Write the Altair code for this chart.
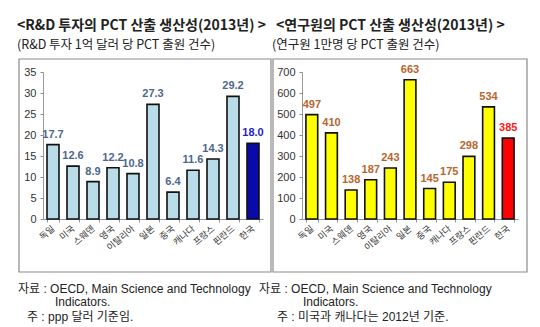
import altair as alt
import pandas as pd

countries = ["독일", "미국", "스웨덴", "영국", "이탈리아", "일본", "중국", "캐나다", "프랑스", "핀란드", "한국"]
rd_values = [17.7, 12.6, 8.9, 12.2, 10.8, 27.3, 6.4, 11.6, 14.3, 29.2, 18.0]
res_values = [497, 410, 138, 187, 243, 663, 145, 175, 298, 534, 385]

left_fill = ["#B8DDE8"] * 10 + ["#0A0AA8"]
left_label_color = ["#4D6690"] * 10 + ["#2323C8"]
right_fill = ["#FFFF00"] * 10 + ["#FF0000"]
right_label_color = ["#B9652E"] * 10 + ["#FF1A1A"]

left_title = "<R&D 투자의 PCT 산출 생산성(2013년) >"
left_sub = "(R&D 투자 1억 달러 당 PCT 출원 건수)"
right_title = "<연구원의 PCT 산출 생산성(2013년) >"
right_sub = "(연구원 1만명 당 PCT 출원 건수)"
src1 = "자료 : OECD, Main Science and Technology"
src2 = "Indicators."
note_left = "주 : ppp 달러 기준임."
note_right = "주 : 미국과 캐나다는 2012년 기준."

KFONT = "Noto Sans CJK KR"
FFONT = "Liberation Sans, Noto Sans CJK KR"

df_l = pd.DataFrame({"country": countries, "value": rd_values,
                     "lab": [f"{v:.1f}" for v in rd_values]})
df_r = pd.DataFrame({"country": countries, "value": res_values,
                     "lab": [str(v) for v in res_values]})


def panel(df, x_range, y_domain, y_step, fills, lab_colors, axis_off_x):
    def xs():
        return alt.Scale(domain=countries, range=x_range, paddingInner=0.4, paddingOuter=0.2)

    def ys():
        return alt.Scale(domain=y_domain, range=[219, 72], nice=False, zero=True)

    xaxis = alt.Axis(orient="bottom", offset=-108, labelAngle=-40, labelAlign="right",
                     labelBaseline="middle", labelPadding=5, labelFont=KFONT, labelFontSize=9,
                     labelColor="#333333", tickBand="extent", tickSize=3, tickColor="#8899AA",
                     domainColor="#8899AA", title=None, labelOverlap=False, grid=False)
    yaxis = alt.Axis(orient="left", offset=axis_off_x,
                     values=list(range(y_domain[0], y_domain[1] + 1, y_step)),
                     labelFont="Liberation Sans", labelFontSize=11, labelColor="#333333",
                     tickSize=3, tickColor="#888888", domainColor="#999999", labelPadding=4,
                     grid=False, title=None)
    bars = alt.Chart(df).mark_bar(stroke="#111111", strokeWidth=1.6).encode(
        x=alt.X("country:N", scale=xs(), axis=xaxis, sort=countries),
        y=alt.Y("value:Q", scale=ys(), axis=yaxis),
        color=alt.Color("country:N", scale=alt.Scale(domain=countries, range=fills), legend=None),
    )
    labels = alt.Chart(df).mark_text(fontWeight="bold", fontSize=11, font="Liberation Sans",
                                     baseline="bottom", dy=-5).encode(
        x=alt.X("country:N", scale=xs(), axis=None, sort=countries),
        y=alt.Y("value:Q", scale=ys(), axis=None),
        text="lab:N",
        color=alt.Color("country:N", scale=alt.Scale(domain=countries, range=lab_colors), legend=None),
    )
    return [bars, labels]


left = panel(df_l, [43, 263], [0, 35], 5, left_fill, left_label_color, -43)
right = panel(df_r, [302, 518], [0, 700], 100, right_fill, right_label_color, -302)

one = pd.DataFrame({"a": [0]})


def box(x1, x2):
    return alt.Chart(one).mark_rect(fill="transparent", stroke="#8A8A8A", strokeWidth=1.2).encode(
        x=alt.value(x1), x2=alt.value(x2), y=alt.value(59), y2=alt.value(272))


def txt(s, x, y, size=12, bold=False, font=KFONT, color="#222222"):
    return alt.Chart(one).mark_text(text=s, align="left", baseline="middle", fontSize=size,
                                    fontWeight="bold" if bold else "normal", font=font,
                                    color=color).encode(x=alt.value(x), y=alt.value(y))


chart = alt.layer(
    *left, *right,
    box(19, 271), box(273, 527),
    txt(left_title, 17, 26, 14, True),
    txt(right_title, 276, 26, 14, True),
    txt(left_sub, 17, 45, 12.5),
    txt(right_sub, 272, 45, 12.5),
    txt(src1, 18, 289, 12, font=FFONT),
    txt(src2, 55, 302, 12, font=FFONT),
    txt(note_left, 27, 317, 12, font=FFONT),
    txt(src1, 259, 289, 12, font=FFONT),
    txt(src2, 303, 302, 12, font=FFONT),
    txt(note_right, 277, 317, 12, font=FFONT),
).resolve_scale(x="independent", y="independent", color="independent").properties(
    width=540, height=327, autosize=alt.AutoSizeParams(type="none"), padding=0
).configure_view(stroke=None)

chart.save("out.html", embed_options={"renderer": "svg", "actions": False})
